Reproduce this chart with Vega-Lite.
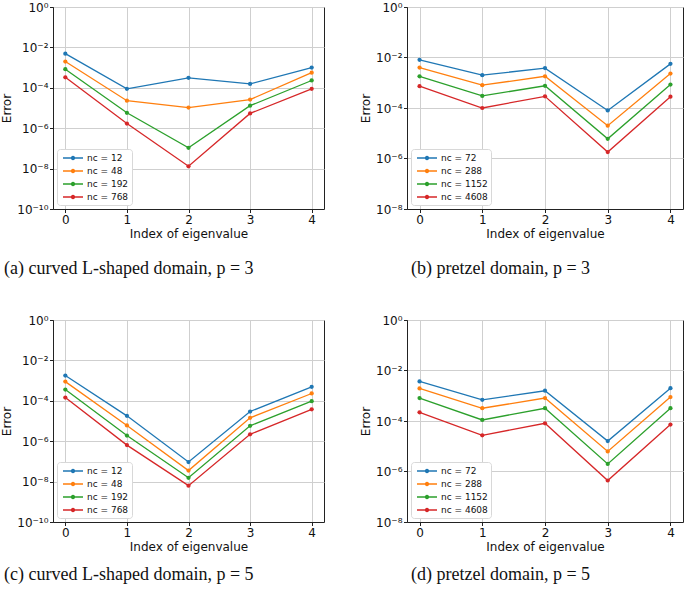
{
  "$schema": "https://vega.github.io/schema/vega-lite/v6.json",
  "padding": {"left": 0, "top": 0, "right": 0, "bottom": 0},
  "background": "white",
  "config": {
    "view": {"stroke": "#222", "strokeWidth": 1},
    "font": "DejaVu Sans",
    "axis": {
      "grid": true, "gridColor": "#cfcfcf", "gridWidth": 1,
      "domainColor": "#222", "tickColor": "#222", "tickSize": 3.5,
      "labelFont": "DejaVu Sans", "labelFontSize": 12, "labelColor": "#111",
      "titleFont": "DejaVu Sans", "titleFontSize": 12, "titleFontWeight": "normal", "titleColor": "#111",
      "labelPadding": 1.5, "titlePadding": 3
    },
    "legend": {
      "orient": "bottom-left", "offset": 4, "title": null,
      "fillColor": "white", "strokeColor": "#d8d8d8", "cornerRadius": 3, "padding": 3,
      "labelFont": "DejaVu Sans", "labelFontSize": 9, "labelColor": "#111",
      "symbolType": "M-2,0H2M-0.3,0a0.3,0.3 0 1,0 0.6,0a0.3,0.3 0 1,0 -0.6,0", "symbolSize": 100, "symbolStrokeWidth": 1.5,
      "symbolOffset": 7, "labelOffset": 8, "rowPadding": 2
    },
    "title": {"font": "Liberation Serif", "fontSize": 18, "fontWeight": "normal", "color": "#111", "orient": "bottom", "anchor": "start", "frame": "group"}
  },
  "datasets": {
    "pts": [
      {"panel": "a", "series": "nc = 12", "idx": 0, "err": 4.9e-3},
      {"panel": "a", "series": "nc = 12", "idx": 1, "err": 8.9e-5},
      {"panel": "a", "series": "nc = 12", "idx": 2, "err": 3.1e-4},
      {"panel": "a", "series": "nc = 12", "idx": 3, "err": 1.55e-4},
      {"panel": "a", "series": "nc = 12", "idx": 4, "err": 1.0e-3},
      {"panel": "a", "series": "nc = 48", "idx": 0, "err": 2.0e-3},
      {"panel": "a", "series": "nc = 48", "idx": 1, "err": 2.3e-5},
      {"panel": "a", "series": "nc = 48", "idx": 2, "err": 1.05e-5},
      {"panel": "a", "series": "nc = 48", "idx": 3, "err": 2.6e-5},
      {"panel": "a", "series": "nc = 48", "idx": 4, "err": 5.6e-4},
      {"panel": "a", "series": "nc = 192", "idx": 0, "err": 8.3e-4},
      {"panel": "a", "series": "nc = 192", "idx": 1, "err": 5.8e-6},
      {"panel": "a", "series": "nc = 192", "idx": 2, "err": 1.07e-7},
      {"panel": "a", "series": "nc = 192", "idx": 3, "err": 1.3e-5},
      {"panel": "a", "series": "nc = 192", "idx": 4, "err": 2.3e-4},
      {"panel": "a", "series": "nc = 768", "idx": 0, "err": 3.3e-4},
      {"panel": "a", "series": "nc = 768", "idx": 1, "err": 1.7e-6},
      {"panel": "a", "series": "nc = 768", "idx": 2, "err": 1.3e-8},
      {"panel": "a", "series": "nc = 768", "idx": 3, "err": 5.4e-6},
      {"panel": "a", "series": "nc = 768", "idx": 4, "err": 8.9e-5},

      {"panel": "b", "series": "nc = 72", "idx": 0, "err": 8.1e-3},
      {"panel": "b", "series": "nc = 72", "idx": 1, "err": 2.0e-3},
      {"panel": "b", "series": "nc = 72", "idx": 2, "err": 3.8e-3},
      {"panel": "b", "series": "nc = 72", "idx": 3, "err": 8.0e-5},
      {"panel": "b", "series": "nc = 72", "idx": 4, "err": 5.6e-3},
      {"panel": "b", "series": "nc = 288", "idx": 0, "err": 4.0e-3},
      {"panel": "b", "series": "nc = 288", "idx": 1, "err": 8.0e-4},
      {"panel": "b", "series": "nc = 288", "idx": 2, "err": 1.8e-3},
      {"panel": "b", "series": "nc = 288", "idx": 3, "err": 2.0e-5},
      {"panel": "b", "series": "nc = 288", "idx": 4, "err": 2.3e-3},
      {"panel": "b", "series": "nc = 1152", "idx": 0, "err": 1.8e-3},
      {"panel": "b", "series": "nc = 1152", "idx": 1, "err": 3.0e-4},
      {"panel": "b", "series": "nc = 1152", "idx": 2, "err": 7.6e-4},
      {"panel": "b", "series": "nc = 1152", "idx": 3, "err": 6.0e-6},
      {"panel": "b", "series": "nc = 1152", "idx": 4, "err": 8.5e-4},
      {"panel": "b", "series": "nc = 4608", "idx": 0, "err": 7.3e-4},
      {"panel": "b", "series": "nc = 4608", "idx": 1, "err": 1.0e-4},
      {"panel": "b", "series": "nc = 4608", "idx": 2, "err": 2.9e-4},
      {"panel": "b", "series": "nc = 4608", "idx": 3, "err": 1.8e-6},
      {"panel": "b", "series": "nc = 4608", "idx": 4, "err": 2.8e-4},

      {"panel": "c", "series": "nc = 12", "idx": 0, "err": 1.78e-3},
      {"panel": "c", "series": "nc = 12", "idx": 1, "err": 1.8e-5},
      {"panel": "c", "series": "nc = 12", "idx": 2, "err": 9.3e-8},
      {"panel": "c", "series": "nc = 12", "idx": 3, "err": 2.95e-5},
      {"panel": "c", "series": "nc = 12", "idx": 4, "err": 4.9e-4},
      {"panel": "c", "series": "nc = 48", "idx": 0, "err": 8.9e-4},
      {"panel": "c", "series": "nc = 48", "idx": 1, "err": 6.0e-6},
      {"panel": "c", "series": "nc = 48", "idx": 2, "err": 3.5e-8},
      {"panel": "c", "series": "nc = 48", "idx": 3, "err": 1.44e-5},
      {"panel": "c", "series": "nc = 48", "idx": 4, "err": 2.3e-4},
      {"panel": "c", "series": "nc = 192", "idx": 0, "err": 3.6e-4},
      {"panel": "c", "series": "nc = 192", "idx": 1, "err": 1.9e-6},
      {"panel": "c", "series": "nc = 192", "idx": 2, "err": 1.55e-8},
      {"panel": "c", "series": "nc = 192", "idx": 3, "err": 5.8e-6},
      {"panel": "c", "series": "nc = 192", "idx": 4, "err": 9.6e-5},
      {"panel": "c", "series": "nc = 768", "idx": 0, "err": 1.45e-4},
      {"panel": "c", "series": "nc = 768", "idx": 1, "err": 6.4e-7},
      {"panel": "c", "series": "nc = 768", "idx": 2, "err": 6.3e-9},
      {"panel": "c", "series": "nc = 768", "idx": 3, "err": 2.2e-6},
      {"panel": "c", "series": "nc = 768", "idx": 4, "err": 3.8e-5},

      {"panel": "d", "series": "nc = 72", "idx": 0, "err": 3.7e-3},
      {"panel": "d", "series": "nc = 72", "idx": 1, "err": 6.9e-4},
      {"panel": "d", "series": "nc = 72", "idx": 2, "err": 1.58e-3},
      {"panel": "d", "series": "nc = 72", "idx": 3, "err": 1.6e-5},
      {"panel": "d", "series": "nc = 72", "idx": 4, "err": 2.0e-3},
      {"panel": "d", "series": "nc = 288", "idx": 0, "err": 1.95e-3},
      {"panel": "d", "series": "nc = 288", "idx": 1, "err": 3.2e-4},
      {"panel": "d", "series": "nc = 288", "idx": 2, "err": 8.1e-4},
      {"panel": "d", "series": "nc = 288", "idx": 3, "err": 6.2e-6},
      {"panel": "d", "series": "nc = 288", "idx": 4, "err": 8.9e-4},
      {"panel": "d", "series": "nc = 1152", "idx": 0, "err": 8.1e-4},
      {"panel": "d", "series": "nc = 1152", "idx": 1, "err": 1.1e-4},
      {"panel": "d", "series": "nc = 1152", "idx": 2, "err": 3.2e-4},
      {"panel": "d", "series": "nc = 1152", "idx": 3, "err": 2.0e-6},
      {"panel": "d", "series": "nc = 1152", "idx": 4, "err": 3.2e-4},
      {"panel": "d", "series": "nc = 4608", "idx": 0, "err": 2.2e-4},
      {"panel": "d", "series": "nc = 4608", "idx": 1, "err": 2.7e-5},
      {"panel": "d", "series": "nc = 4608", "idx": 2, "err": 8.1e-5},
      {"panel": "d", "series": "nc = 4608", "idx": 3, "err": 4.4e-7},
      {"panel": "d", "series": "nc = 4608", "idx": 4, "err": 7.2e-5}
    ]
  },
  "resolve": {"scale": {"color": "independent", "x": "independent", "y": "independent"}, "legend": {"color": "independent"}},
  "spacing": 34,
  "vconcat": [
    {
      "spacing": 34,
      "resolve": {"scale": {"color": "independent", "x": "independent", "y": "independent"}, "legend": {"color": "independent"}},
      "hconcat": [
        {
          "width": 271, "height": 202,
          "data": {"name": "pts"},
          "transform": [{"filter": "datum.panel == 'a'"}],
          "title": {"text": "(a) curved L-shaped domain, p = 3", "dx": -49, "offset": 21},
          "encoding": {
            "x": {"field": "idx", "type": "quantitative", "scale": {"domain": [-0.2, 4.2], "nice": false, "zero": false}, "axis": {"values": [0, 1, 2, 3, 4], "format": "d", "title": "Index of eigenvalue"}},
            "y": {"field": "err", "type": "quantitative", "scale": {"type": "log", "domain": [1e-10, 1], "nice": false}, "axis": {"values": [1e-10, 1e-8, 1e-6, 1e-4, 1e-2, 1], "title": "Error", "labelExpr": "datum.value >= 0.5 ? '10⁰' : datum.value >= 0.005 ? '10⁻²' : datum.value >= 5e-5 ? '10⁻⁴' : datum.value >= 5e-7 ? '10⁻⁶' : datum.value >= 5e-9 ? '10⁻⁸' : '10⁻¹⁰'"}},
            "color": {"field": "series", "type": "nominal", "sort": ["nc = 12", "nc = 48", "nc = 192", "nc = 768"], "scale": {"domain": ["nc = 12", "nc = 48", "nc = 192", "nc = 768"], "range": ["#1f77b4", "#ff7f0e", "#2ca02c", "#d62728"]}}
          },
          "layer": [
            {"mark": {"type": "line", "strokeWidth": 1.3}},
            {"mark": {"type": "point", "filled": true, "size": 18, "opacity": 1}}
          ]
        },
        {
          "width": 276, "height": 202,
          "data": {"name": "pts"},
          "transform": [{"filter": "datum.panel == 'b'"}],
          "title": {"text": "(b) pretzel domain, p = 3", "dx": 4, "offset": 21},
          "encoding": {
            "x": {"field": "idx", "type": "quantitative", "scale": {"domain": [-0.2, 4.2], "nice": false, "zero": false}, "axis": {"values": [0, 1, 2, 3, 4], "format": "d", "title": "Index of eigenvalue"}},
            "y": {"field": "err", "type": "quantitative", "scale": {"type": "log", "domain": [1e-8, 1], "nice": false}, "axis": {"values": [1e-8, 1e-6, 1e-4, 1e-2, 1], "title": "Error", "labelExpr": "datum.value >= 0.5 ? '10⁰' : datum.value >= 0.005 ? '10⁻²' : datum.value >= 5e-5 ? '10⁻⁴' : datum.value >= 5e-7 ? '10⁻⁶' : '10⁻⁸'"}},
            "color": {"field": "series", "type": "nominal", "sort": ["nc = 72", "nc = 288", "nc = 1152", "nc = 4608"], "scale": {"domain": ["nc = 72", "nc = 288", "nc = 1152", "nc = 4608"], "range": ["#1f77b4", "#ff7f0e", "#2ca02c", "#d62728"]}}
          },
          "layer": [
            {"mark": {"type": "line", "strokeWidth": 1.3}},
            {"mark": {"type": "point", "filled": true, "size": 18, "opacity": 1}}
          ]
        }
      ]
    },
    {
      "spacing": 34,
      "resolve": {"scale": {"color": "independent", "x": "independent", "y": "independent"}, "legend": {"color": "independent"}},
      "hconcat": [
        {
          "width": 271, "height": 202,
          "data": {"name": "pts"},
          "transform": [{"filter": "datum.panel == 'c'"}],
          "title": {"text": "(c) curved L-shaped domain, p = 5", "dx": -49, "offset": 14},
          "encoding": {
            "x": {"field": "idx", "type": "quantitative", "scale": {"domain": [-0.2, 4.2], "nice": false, "zero": false}, "axis": {"values": [0, 1, 2, 3, 4], "format": "d", "title": "Index of eigenvalue"}},
            "y": {"field": "err", "type": "quantitative", "scale": {"type": "log", "domain": [1e-10, 1], "nice": false}, "axis": {"values": [1e-10, 1e-8, 1e-6, 1e-4, 1e-2, 1], "title": "Error", "labelExpr": "datum.value >= 0.5 ? '10⁰' : datum.value >= 0.005 ? '10⁻²' : datum.value >= 5e-5 ? '10⁻⁴' : datum.value >= 5e-7 ? '10⁻⁶' : datum.value >= 5e-9 ? '10⁻⁸' : '10⁻¹⁰'"}},
            "color": {"field": "series", "type": "nominal", "sort": ["nc = 12", "nc = 48", "nc = 192", "nc = 768"], "scale": {"domain": ["nc = 12", "nc = 48", "nc = 192", "nc = 768"], "range": ["#1f77b4", "#ff7f0e", "#2ca02c", "#d62728"]}}
          },
          "layer": [
            {"mark": {"type": "line", "strokeWidth": 1.3}},
            {"mark": {"type": "point", "filled": true, "size": 18, "opacity": 1}}
          ]
        },
        {
          "width": 276, "height": 202,
          "data": {"name": "pts"},
          "transform": [{"filter": "datum.panel == 'd'"}],
          "title": {"text": "(d) pretzel domain, p = 5", "dx": 4, "offset": 14},
          "encoding": {
            "x": {"field": "idx", "type": "quantitative", "scale": {"domain": [-0.2, 4.2], "nice": false, "zero": false}, "axis": {"values": [0, 1, 2, 3, 4], "format": "d", "title": "Index of eigenvalue"}},
            "y": {"field": "err", "type": "quantitative", "scale": {"type": "log", "domain": [1e-8, 1], "nice": false}, "axis": {"values": [1e-8, 1e-6, 1e-4, 1e-2, 1], "title": "Error", "labelExpr": "datum.value >= 0.5 ? '10⁰' : datum.value >= 0.005 ? '10⁻²' : datum.value >= 5e-5 ? '10⁻⁴' : datum.value >= 5e-7 ? '10⁻⁶' : '10⁻⁸'"}},
            "color": {"field": "series", "type": "nominal", "sort": ["nc = 72", "nc = 288", "nc = 1152", "nc = 4608"], "scale": {"domain": ["nc = 72", "nc = 288", "nc = 1152", "nc = 4608"], "range": ["#1f77b4", "#ff7f0e", "#2ca02c", "#d62728"]}}
          },
          "layer": [
            {"mark": {"type": "line", "strokeWidth": 1.3}},
            {"mark": {"type": "point", "filled": true, "size": 18, "opacity": 1}}
          ]
        }
      ]
    }
  ]
}
